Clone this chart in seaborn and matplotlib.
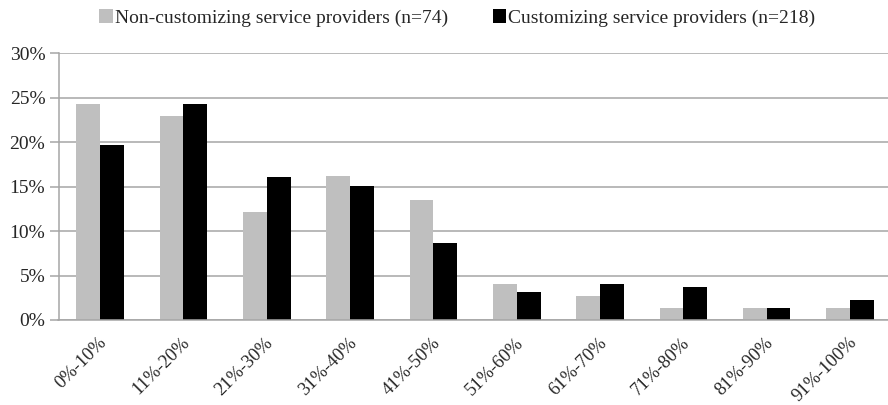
import matplotlib
matplotlib.use("Agg")
import matplotlib.pyplot as plt
import matplotlib.transforms as mtransforms
import seaborn as sns
import pandas as pd
from matplotlib.patches import Patch
from matplotlib.ticker import PercentFormatter

categories = ["0%-10%", "11%-20%", "21%-30%", "31%-40%", "41%-50%",
              "51%-60%", "61%-70%", "71%-80%", "81%-90%", "91%-100%"]
series_names = ["Non-customizing service providers (n=74)",
                "Customizing service providers (n=218)"]
non_custom = [24.3, 23.0, 12.2, 16.2, 13.5, 4.1, 2.7, 1.35, 1.35, 1.35]
custom = [19.7, 24.3, 16.1, 15.1, 8.7, 3.2, 4.1, 3.7, 1.4, 2.3]
y_ticks = [0, 5, 10, 15, 20, 25, 30]

df = pd.DataFrame({
    "category": categories * 2,
    "value": non_custom + custom,
    "series": [series_names[0]] * len(categories) + [series_names[1]] * len(categories),
})

sns.set_theme(style="white")
plt.rcParams["font.family"] = ["Liberation Serif", "DejaVu Serif"]

colors = ["#BFBFBF", "#000000"]
fig = plt.figure(figsize=(8.88, 4.05), dpi=100)
ax = fig.add_axes([58.5 / 888, 85 / 405, 833.2 / 888, 266.7 / 405])

sns.barplot(data=df, x="category", y="value", hue="series", order=categories,
            hue_order=series_names, palette=colors, width=0.57, gap=0,
            saturation=1, ax=ax, legend=False, linewidth=0)

ax.set_ylim(0, 30)
ax.set_xlim(-0.5, len(categories) - 0.5)
ax.set_yticks(y_ticks)
ax.yaxis.set_major_formatter(PercentFormatter(decimals=0))
ax.yaxis.grid(True, color="#A6A6A6", linewidth=1.1)
ax.set_axisbelow(True)
ax.set_xlabel("")
ax.set_ylabel("")

for s in ["top", "right"]:
    ax.spines[s].set_visible(False)
for s in ["left", "bottom"]:
    ax.spines[s].set_color("#A6A6A6")
    ax.spines[s].set_linewidth(1.1)

ax.set_xticks(range(len(categories)))
ax.set_xticks([i - 0.5 for i in range(len(categories) + 1)], minor=True)
ax.tick_params(axis="x", which="major", length=0, pad=14.5)
ax.tick_params(axis="x", which="minor", length=4, width=1.1, color="#A6A6A6", direction="out")
ax.tick_params(axis="y", length=6.5, width=1.1, color="#A6A6A6", direction="out", pad=3,
               labelsize=14, left=True)
ax.set_xticklabels(categories, rotation=45, ha="right", rotation_mode="anchor", fontsize=13.3)
offset = mtransforms.ScaledTranslation(4 / 100, 0, fig.dpi_scale_trans)
for lbl in ax.get_xticklabels():
    lbl.set_va("center")
    lbl.set_transform(lbl.get_transform() + offset)

handles = [Patch(facecolor=c, edgecolor="none") for c in colors]
fig.legend(handles, series_names, loc="center", bbox_to_anchor=(0.515, 0.955), ncol=2,
           frameon=False, fontsize=14, handlelength=0.7, handleheight=0.7,
           handletextpad=0.1, columnspacing=2.3)

fig.savefig("out.png", dpi=100)
